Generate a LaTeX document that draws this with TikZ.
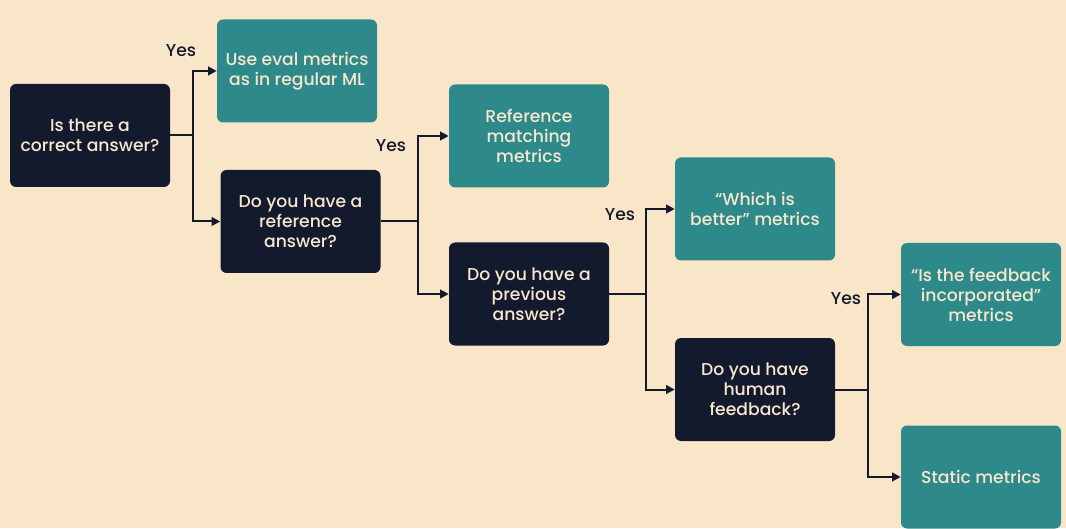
\documentclass[tikz,border=0pt]{standalone}
\usepackage{fontspec}
\setmainfont{Poppins}[UprightFont=* Medium]
\usetikzlibrary{arrows.meta}
\definecolor{bgpeach}{HTML}{F9E6C8}
\definecolor{navy}{HTML}{141A2E}
\definecolor{tealbox}{HTML}{2E8A8A}
\definecolor{cream}{HTML}{F6E7CD}

\begin{document}
\begin{tikzpicture}[x=0.75pt,y=-0.75pt]
        \tikzset{box/.style={rounded corners=4.5pt, minimum width=120pt, minimum height=77.25pt, align=center, text=cream, font=\fontsize{12.9}{15}\selectfont, inner sep=2pt},
                 question/.style={box, fill=navy},
                 answer/.style={box, fill=tealbox},
                 link/.style={navy, line width=1.5pt},
                 arrow/.style={link, -{Triangle[length=6.5pt,width=6.5pt]}},
                 yes/.style={text=navy, font=\fontsize{12.9}{15}\selectfont}}
        \fill[bgpeach] (0,0) rectangle (1066,528);
        % questions
        \node[question] (q1) at (90,135.5) {Is there a\\correct answer?};
        \node[question] (q2) at (300.5,221.5) {Do you have a\\reference\\answer?};
        \node[question] (q3) at (529,294) {Do you have a\\previous\\answer?};
        \node[question] (q4) at (755,389.5) {Do you have\\human\\feedback?};
        % outcomes
        \node[answer] (a1) at (297,71) {Use eval metrics\\as in regular ML};
        \node[answer] (a2) at (529,136) {Reference\\matching\\metrics};
        \node[answer] (a3) at (755,209) {“Which is\\better” metrics};
        \node[answer] (a4) at (981,294.5) {“Is the feedback\\incorporated”\\metrics};
        \node[answer] (a5) at (981,477) {Static metrics};
        % branches
        \draw[link] (q1.east) -- ++(23,0) coordinate (b1);
        \draw[arrow] (b1) |- (a1.west);
        \draw[arrow] (b1) |- (q2.west);
        \draw[link] (q2.east) -- ++(37,0) coordinate (b2);
        \draw[arrow] (b2) |- (a2.west);
        \draw[arrow] (b2) |- (q3.west);
        \draw[link] (q3.east) -- ++(37,0) coordinate (b3);
        \draw[arrow] (b3) |- (a3.west);
        \draw[arrow] (b3) |- (q4.west);
        \draw[link] (q4.east) -- ++(33,0) coordinate (b4);
        \draw[arrow] (b4) |- (a4.west);
        \draw[arrow] (b4) |- (a5.west);
        % labels
        \node[yes] (y1) at (181,51) {Yes};
        \node[yes] (y2) at (391,146) {Yes};
        \node[yes] (y3) at (620,215) {Yes};
        \node[yes] (y4) at (846,299) {Yes};
    \end{tikzpicture}
\end{document}
